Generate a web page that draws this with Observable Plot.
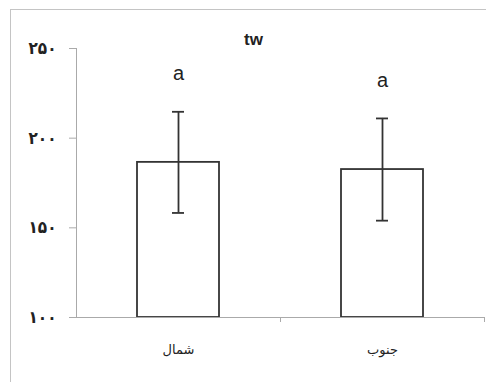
<!DOCTYPE html>
<html>
<head>
<meta charset="utf-8">
<script src="https://cdn.jsdelivr.net/npm/d3@7"></script>
<script src="https://cdn.jsdelivr.net/npm/@observablehq/plot@0.6"></script>
<style>
  body { margin: 0; background: #fff; }
  #wrap { position: relative; width: 486px; height: 382px; overflow: hidden; }
  #border { position: absolute; left: 10px; top: 9px; right: 0; bottom: 0; border-top: 1px solid #c4c4c4; border-left: 1px solid #c4c4c4; }
  #chart { position: absolute; left: 0; top: 0; }
</style>
</head>
<body>
<div id="wrap"><div id="border"></div><div id="chart"></div></div>
<script>
const categories = ["شمال", "جنوب"];
const means = [186.5, 182.5];
const errors = [28.2, 28.5];
const letters = ["a", "a"];
const yTicks = [100, 150, 200, 250];
const title = "tw";

const data = categories.map((c, i) => ({cat: c, mean: means[i], err: errors[i], letter: letters[i]}));
const fa = d => String(d).replace(/\d/g, c => "۰۱۲۳۴۵۶۷۸۹"[+c]);

const W = 486, H = 382, mL = 76, mR = 2, mT = 48, mB = 65;
const step = (W - mL - mR) / categories.length;

const chart = Plot.plot({
  width: W, height: H,
  marginLeft: mL, marginRight: mR, marginTop: mT, marginBottom: mB,
  style: {fontFamily: "'Liberation Sans', 'DejaVu Sans', sans-serif", background: "transparent", color: "#222"},
  x: {domain: categories, paddingInner: 0.6, paddingOuter: 0.3, label: null},
  y: {domain: [yTicks[0], yTicks[yTicks.length - 1]], label: null},
  marks: [
    Plot.barY(data, {x: "cat", y1: yTicks[0], y2: "mean", fill: "white", stroke: "#333", strokeWidth: 1.8}),
    Plot.ruleX(data, {x: "cat", y1: d => d.mean - d.err, y2: d => d.mean + d.err, stroke: "#333", strokeWidth: 1.8}),
    Plot.tickY(data, {x: "cat", y: d => d.mean + d.err, stroke: "#333", strokeWidth: 1.8, insetLeft: 35, insetRight: 35}),
    Plot.tickY(data, {x: "cat", y: d => d.mean - d.err, stroke: "#333", strokeWidth: 1.8, insetLeft: 35, insetRight: 35}),
    Plot.text(data, {x: "cat", y: d => d.mean + d.err, text: "letter", dy: -38, fontSize: 20, fill: "#222"}),
    Plot.frame({anchor: "left", stroke: "#aaa"}),
    Plot.ruleY([yTicks[0]], {stroke: "#aaa"}),
    Plot.axisY({ticks: yTicks, tickSize: 7, tickPadding: 13, tickFormat: fa, fontSize: 17, fontWeight: "bold", fontFamily: "'DejaVu Sans Condensed', 'DejaVu Sans'", stroke: "#aaa", fill: "#222", label: null}),
    Plot.axisX({tickSize: 5, dx: step / 2, text: null, stroke: "#aaa", label: null}),
    Plot.axisX({tickSize: 0, tickPadding: 27, fontSize: 13, fill: "#222", label: null}),
    Plot.text([title], {frameAnchor: "top", dx: -27, dy: -9, lineAnchor: "middle", fontSize: 17, fontWeight: "bold", fill: "#222"})
  ]
});
document.getElementById("chart").appendChild(chart);
</script>
</body>
</html>
